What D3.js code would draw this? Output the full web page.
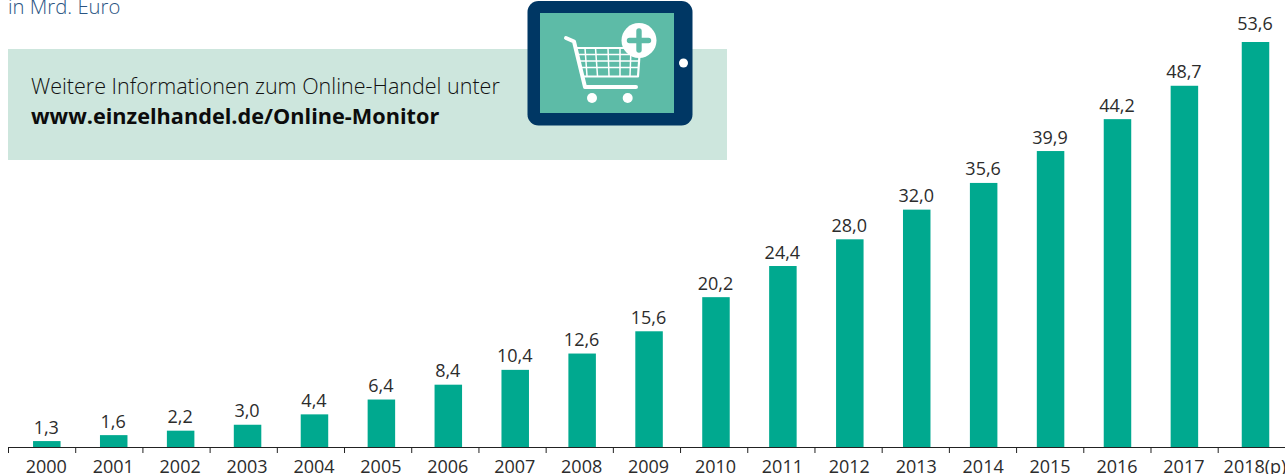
<!DOCTYPE html>
<html>
<head>
<meta charset="utf-8">
<script src="https://cdn.jsdelivr.net/npm/d3@7"></script>
<style>
  html, body { margin: 0; padding: 0; background: #fff; overflow: hidden; }
  svg { display: block; font-family: "Open Sans", sans-serif; }
</style>
</head>
<body>
<svg id="chart" width="1285" height="474"></svg>
<script>
const years = ['2000', '2001', '2002', '2003', '2004', '2005', '2006', '2007', '2008', '2009',
  '2010', '2011', '2012', '2013', '2014', '2015', '2016', '2017', '2018(p)'];
// printed figures
const valueLabels = ['1,3', '1,6', '2,2', '3,0', '4,4', '6,4', '8,4', '10,4', '12,6', '15,6',
  '20,2', '24,4', '28,0', '32,0', '35,6', '39,9', '44,2', '48,7', '53,6'];
// bar lengths as drawn, the first and last bar do not follow their printed figure
const barValues = [0.8, 1.6, 2.2, 3.0, 4.4, 6.4, 8.4, 10.4, 12.6, 15.6,
  20.2, 24.4, 28.0, 32.0, 35.6, 39.9, 44.2, 48.7, 54.6];
const unitLabel = 'in Mrd. Euro';
const infoLines = ['Weitere Informationen zum Online-Handel unter', 'www.einzelhandel.de/Online-Monitor'];

const svg = d3.select('#chart');
const axisY = 447;
const barWidth = 27.5;

// the last column sits a bit further right than the regular spacing
const x = d3.scaleLinear()
  .domain([0, 17, 18])
  .range([46.8, 1184.4, 1255.5]);

const y = d3.scaleLinear()
  .domain([0, 54.6])
  .range([axisY, 42]);

const tickPos = d3.scaleLinear()
  .domain([0, 18])
  .range([8, 1217.7]);

// info box
svg.append('rect')
  .attr('x', 8).attr('y', 49)
  .attr('width', 719).attr('height', 111)
  .attr('fill', '#cde6dd');

svg.append('text')
  .attr('x', 8).attr('y', 14)
  .attr('fill', '#2b5583')
  .style('font-size', '20.3px')
  .style('font-weight', 300)
  .text(unitLabel);

svg.selectAll('text.info')
  .data(infoLines)
  .join('text')
  .attr('class', 'info')
  .attr('x', 31)
  .attr('y', (d, i) => 94 + i * 30)
  .attr('fill', (d, i) => (i ? '#0c0c0c' : '#111'))
  .style('font-size', (d, i) => (i ? '21.7px' : '21.5px'))
  .style('font-weight', (d, i) => (i ? 700 : 300))
  .text((d) => d);

// tablet with shopping cart
const tablet = svg.append('g');
tablet.append('rect')
  .attr('x', 527.5).attr('y', 1)
  .attr('width', 165).attr('height', 124.5)
  .attr('rx', 11)
  .attr('fill', '#003764');
tablet.append('rect')
  .attr('x', 540).attr('y', 13)
  .attr('width', 134).attr('height', 100)
  .attr('fill', '#5dbba7');
tablet.append('circle')
  .attr('cx', 683.5).attr('cy', 63).attr('r', 4.5)
  .attr('fill', '#fff');

const cart = tablet.append('g')
  .attr('fill', 'none')
  .attr('stroke', '#fff')
  .attr('stroke-linecap', 'round')
  .attr('stroke-linejoin', 'round');
cart.append('path')
  .attr('d', 'M566 38 L574 41.5 L585 87 L636 87')
  .attr('stroke-width', 4);
cart.append('path')
  .attr('d', 'M577 48 L640 48 L638 76.5 L582 76.5')
  .attr('stroke-width', 2.2);
cart.append('path')
  .attr('d', 'M578 54.5 L639 54.5 M579.5 61 L639 61 M581 67.5 L638.5 67.5 M585 48 L587 76 M595.5 48 L597.5 76 M608 48 L609 76 M620 48 L620 76 M631 48 L630 76')
  .attr('stroke-width', 1.5)
  .attr('stroke-linecap', 'butt');
tablet.selectAll('circle.wheel')
  .data([592, 627.7])
  .join('circle')
  .attr('class', 'wheel')
  .attr('cx', (d) => d).attr('cy', 98).attr('r', 5)
  .attr('fill', '#fff');
tablet.append('circle')
  .attr('cx', 639).attr('cy', 40.5).attr('r', 17.5)
  .attr('fill', '#fff');
tablet.append('path')
  .attr('d', 'M639 31 V50 M629.5 40.5 H648.5')
  .attr('stroke', '#5dbba7')
  .attr('stroke-width', 5.4)
  .attr('stroke-linecap', 'round');

// bars
svg.selectAll('rect.bar')
  .data(barValues)
  .join('rect')
  .attr('class', 'bar')
  .attr('x', (d, i) => x(i) - barWidth / 2)
  .attr('y', (d) => y(d))
  .attr('width', barWidth)
  .attr('height', (d) => axisY - y(d))
  .attr('fill', '#00a98f');

svg.selectAll('text.value')
  .data(barValues)
  .join('text')
  .attr('class', 'value')
  .attr('x', (d, i) => x(i) - 0.5)
  .attr('y', (d, i) => y(d) - (i === barValues.length - 1 ? 12 : 7.5))
  .attr('text-anchor', 'middle')
  .attr('fill', '#2c2c2c')
  .style('font-size', '18px')
  .text((d, i) => valueLabels[i]);

// axis line and ticks
const tickAxis = d3.axisBottom(tickPos)
  .tickValues(d3.range(19))
  .tickSize(6)
  .tickFormat('');
svg.append('g')
  .attr('transform', `translate(0,${axisY})`)
  .call(tickAxis)
  .call((g) => g.select('.domain').attr('d', 'M8,0.5H1285').attr('stroke', '#222'))
  .call((g) => g.selectAll('.tick line').attr('stroke', '#222'));

const labelAxis = d3.axisBottom(x)
  .tickValues(d3.range(19))
  .tickFormat((i) => years[i])
  .tickSize(0)
  .tickPadding(13);
svg.append('g')
  .attr('transform', `translate(-1,${axisY})`)
  .call(labelAxis)
  .call((g) => g.select('.domain').remove())
  .call((g) => g.selectAll('text')
    .attr('fill', '#2c2c2c')
    .style('font-family', '"Open Sans", sans-serif')
    .style('font-size', '18px'));
</script>
</body>
</html>
